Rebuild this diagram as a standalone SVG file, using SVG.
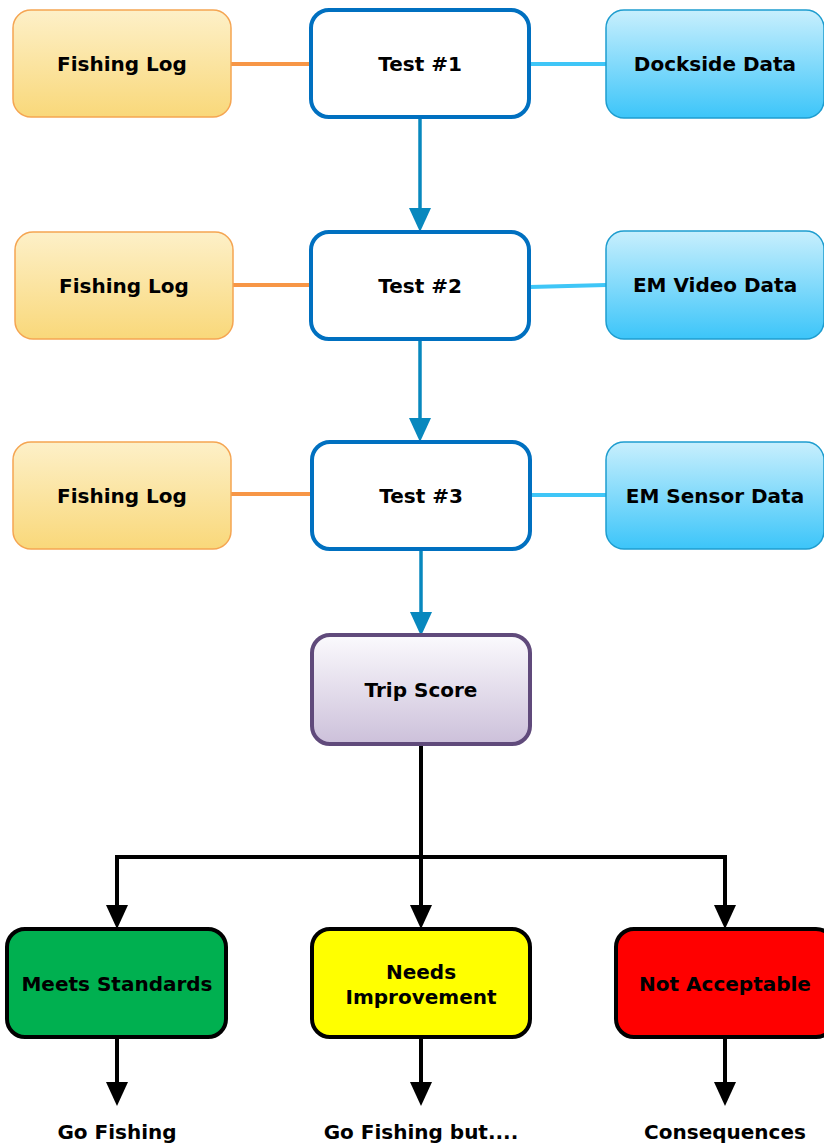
<svg xmlns="http://www.w3.org/2000/svg" width="824" height="1144" viewBox="0 0 824 1144">
<defs>
<linearGradient id="gOr" x1="0" y1="0" x2="0" y2="1"><stop offset="0" stop-color="#fdf0c8"/><stop offset="1" stop-color="#f9d87a"/></linearGradient>
<linearGradient id="gBl" x1="0" y1="0" x2="0" y2="1"><stop offset="0" stop-color="#c8effd"/><stop offset="1" stop-color="#3cc5f9"/></linearGradient>
<linearGradient id="gPu" x1="0" y1="0" x2="0" y2="1"><stop offset="0" stop-color="#fbfafd"/><stop offset="1" stop-color="#ccc0da"/></linearGradient>
<marker id="aBlue" viewBox="0 0 24 22" refX="2" refY="11" markerWidth="24" markerHeight="22" markerUnits="userSpaceOnUse" orient="auto"><path d="M0,0 L24,11 L0,22 Z" fill="#0888be"/></marker>
<marker id="aBlack" viewBox="0 0 24 22" refX="2" refY="11" markerWidth="24" markerHeight="22" markerUnits="userSpaceOnUse" orient="auto"><path d="M0,0 L24,11 L0,22 Z" fill="#000"/></marker>
</defs>
<style>
text{font-family:"DejaVu Sans",Verdana,sans-serif;font-weight:bold;font-size:20px;fill:#000;text-anchor:middle}
.log{fill:url(#gOr);stroke:#f5a552;stroke-width:1.5}
.data{fill:url(#gBl);stroke:#1e9dcf;stroke-width:1.5}
.test{fill:#fff;stroke:#0070c0;stroke-width:4}
.score{fill:url(#gPu);stroke:#604a7b;stroke-width:4}
.res{stroke:#000;stroke-width:4}
.co{stroke:#f79646;stroke-width:4;fill:none}
.cb{stroke:#3fc6f7;stroke-width:4;fill:none}
.fb{stroke:#0888be;stroke-width:3.5;fill:none;marker-end:url(#aBlue)}
.fk{stroke:#000;stroke-width:4;fill:none;marker-end:url(#aBlack)}
</style>
<g id="connectors">
<line class="co" x1="231" y1="64" x2="311" y2="64"/>
<line class="cb" x1="529" y1="64" x2="606" y2="64"/>
<line class="co" x1="233" y1="285" x2="311" y2="285"/>
<line class="cb" x1="530" y1="287" x2="606" y2="285"/>
<line class="co" x1="231" y1="494" x2="312" y2="494"/>
<line class="cb" x1="530" y1="495" x2="606" y2="495"/>
<line class="fb" x1="420" y1="118" x2="420" y2="210"/>
<line class="fb" x1="420" y1="340" x2="420" y2="420"/>
<line class="fb" x1="421" y1="550" x2="421" y2="614"/>
<line class="fk" x1="421" y1="745" x2="421" y2="907"/>
<polyline class="fk" points="421,857 117,857 117,907"/>
<polyline class="fk" points="421,857 725,857 725,907"/>
<line class="fk" x1="117" y1="1038" x2="117" y2="1084"/>
<line class="fk" x1="421" y1="1038" x2="421" y2="1084"/>
<line class="fk" x1="725" y1="1038" x2="725" y2="1084"/>
</g>
<g id="log1"><rect class="log" x="13" y="10" width="218" height="107" rx="18"/><text x="122" y="71">Fishing Log</text></g>
<g id="test1"><rect class="test" x="311" y="10" width="218" height="107" rx="18"/><text x="420" y="71">Test #1</text></g>
<g id="dockside"><rect class="data" x="606" y="10" width="218" height="108" rx="18"/><text x="715" y="71">Dockside Data</text></g>
<g id="log2"><rect class="log" x="15" y="232" width="218" height="107" rx="18"/><text x="124" y="293">Fishing Log</text></g>
<g id="test2"><rect class="test" x="311" y="232" width="218" height="107" rx="18"/><text x="420" y="293">Test #2</text></g>
<g id="emvideo"><rect class="data" x="606" y="231" width="218" height="108" rx="18"/><text x="715" y="292">EM Video Data</text></g>
<g id="log3"><rect class="log" x="13" y="442" width="218" height="107" rx="18"/><text x="122" y="503">Fishing Log</text></g>
<g id="test3"><rect class="test" x="312" y="442" width="218" height="107" rx="18"/><text x="421" y="503">Test #3</text></g>
<g id="emsensor"><rect class="data" x="606" y="442" width="218" height="107" rx="18"/><text x="715" y="503">EM Sensor Data</text></g>
<g id="tripscore"><rect class="score" x="312" y="635" width="218" height="109" rx="18"/><text x="421" y="697">Trip Score</text></g>
<g id="meets"><rect class="res" fill="#00b050" x="7" y="929" width="219" height="108" rx="18"/><text x="117" y="991">Meets Standards</text></g>
<g id="needs"><rect class="res" fill="#ffff00" x="312" y="929" width="218" height="108" rx="18"/><text x="421" y="979">Needs</text><text x="421" y="1004">Improvement</text></g>
<g id="notacc"><rect class="res" fill="#ff0000" x="616" y="929" width="218" height="108" rx="18"/><text x="725" y="991">Not Acceptable</text></g>
<g id="out1"><text x="117" y="1139">Go Fishing</text></g>
<g id="out2"><text x="421" y="1139">Go Fishing but....</text></g>
<g id="out3"><text x="725" y="1139">Consequences</text></g>
</svg>
